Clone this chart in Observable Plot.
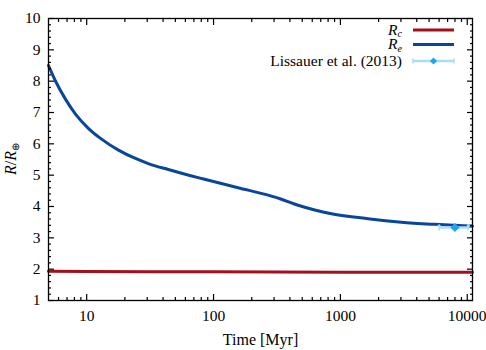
<!DOCTYPE html>
<html><head><meta charset="utf-8">
<script src="https://cdn.jsdelivr.net/npm/d3@7"></script>
<script src="https://cdn.jsdelivr.net/npm/@observablehq/plot@0.6"></script>
<style>body{margin:0;background:#fff} svg{display:block}</style>
</head><body><div id="chart"></div>
<script>
// Envelope radius R_e vs time (Myr)
const timeRe   = [5, 5.7, 6.84, 8.19, 10.4, 13.1, 17.8, 24, 30.6, 44, 65, 85, 156, 286, 343, 464, 628, 849, 1651, 3020, 5525, 11000];
const radiusRe = [8.5, 7.99, 7.41, 6.94, 6.48, 6.15, 5.80, 5.54, 5.37, 5.18, 4.99, 4.87, 4.60, 4.33, 4.23, 4.04, 3.89, 3.77, 3.61, 3.50, 3.43, 3.37];
// Core radius R_c vs time (Myr)
const timeRc   = [5, 10, 100, 1000, 11000];
const radiusRc = [1.93, 1.925, 1.915, 1.905, 1.9];
// Lissauer et al. (2013)
const obsTime   = [8000];
const obsTimeLo = [6000];
const obsTimeHi = [10200];
const obsRadius = [3.33];
// ticks
const xMajor = [10, 100, 1000, 10000];
const xMinor = [6, 7, 8, 9, 20, 30, 40, 50, 60, 70, 80, 90, 200, 300, 400, 500, 600, 700, 800, 900, 2000, 3000, 4000, 5000, 6000, 7000, 8000, 9000];
const yMajor = [1, 2, 3, 4, 5, 6, 7, 8, 9, 10];
const yMinor = d3.range(1, 10, 0.2).filter(v => Math.abs(v - Math.round(v)) > 1e-6);

const red = "#a50f1c", blue = "#08469b", light = "#a8dcf7", pt = "#1aa6f2";

const re = timeRe.map((t, i) => ({t, r: radiusRe[i]}));
const rc = timeRc.map((t, i) => ({t, r: radiusRc[i]}));
const obs = obsTime.map((t, i) => ({t, lo: obsTimeLo[i], hi: obsTimeHi[i], r: obsRadius[i]}));

const chart = Plot.plot({
  width: 486, height: 350,
  marginLeft: 48, marginRight: 14, marginTop: 18, marginBottom: 50,
  style: {fontFamily: "Liberation Serif", fontSize: "15.5px", color: "#000", background: "#fff"},
  x: {type: "log", domain: [5, 11000]},
  y: {domain: [1, 10]},
  marks: [
    Plot.line(rc, {x: "t", y: "r", stroke: red, strokeWidth: 3, curve: "monotone-x"}),
    Plot.line(re, {x: "t", y: "r", stroke: blue, strokeWidth: 3, curve: "monotone-x"}),
    Plot.link(obs, {x1: "lo", x2: "hi", y1: "r", y2: "r", stroke: light, strokeWidth: 2.5}),
    Plot.vector(obs, {x: "lo", y: "r", length: 5, rotate: 0, anchor: "middle", stroke: light, strokeWidth: 1.5}),
    Plot.vector(obs, {x: "hi", y: "r", length: 5, rotate: 0, anchor: "middle", stroke: light, strokeWidth: 1.5}),
    Plot.dot(obs, {x: "t", y: "r", symbol: "square", rotate: 45, fill: pt, r: 3.6}),
    Plot.frame({stroke: "#000", strokeWidth: 1.3}),
    // tick marks (inward)
    Plot.axisY({anchor: "left", ticks: yMajor, tickSize: -6, fill: null, label: null, strokeWidth: 1.2}),
    Plot.axisY({anchor: "left", ticks: yMinor, tickSize: -3, fill: null, label: null, strokeWidth: 1.2}),
    Plot.axisY({anchor: "right", ticks: yMajor, tickSize: -6, fill: null, label: null, strokeWidth: 1.2}),
    Plot.axisY({anchor: "right", ticks: yMinor, tickSize: -3, fill: null, label: null, strokeWidth: 1.2}),
    Plot.axisX({anchor: "bottom", ticks: xMajor, tickSize: -6, fill: null, label: null, strokeWidth: 1.2}),
    Plot.axisX({anchor: "bottom", ticks: xMinor, tickSize: -3, fill: null, label: null, strokeWidth: 1.2}),
    Plot.axisX({anchor: "top", ticks: xMajor, tickSize: -6, fill: null, label: null, strokeWidth: 1.2}),
    Plot.axisX({anchor: "top", ticks: xMinor, tickSize: -3, fill: null, label: null, strokeWidth: 1.2}),
    // tick labels
    Plot.axisY({anchor: "left", ticks: yMajor, tickSize: 0, tickPadding: 8, tickFormat: d => String(d), label: null}),
    Plot.axisX({anchor: "bottom", ticks: xMajor, tickSize: 0, tickPadding: 9, tickFormat: d => String(d), label: null}),
    Plot.text(["Time [Myr]"], {frameAnchor: "bottom", dy: 39, lineAnchor: "middle", fontSize: 16})
  ]
});
document.getElementById("chart").append(chart);

// y-axis label and legend
const svg = d3.select(chart);
const fam = "Liberation Serif";
const yl = svg.append("text")
  .attr("transform", "translate(16,159) rotate(-90)")
  .attr("text-anchor", "middle")
  .attr("font-family", fam).attr("font-size", 16).attr("fill", "#000");
yl.append("tspan").attr("font-style", "italic").text("R");
yl.append("tspan").text("/");
yl.append("tspan").attr("font-style", "italic").text("R");
yl.append("tspan").attr("font-size", 10).attr("dy", 3).text("⊕");

const lg = svg.append("g").attr("font-family", fam).attr("font-size", 15.5).attr("fill", "#000");
const rows = [
  {y: 30, name: "R", sub: "c", color: red},
  {y: 44.5, name: "R", sub: "e", color: blue}
];
rows.forEach(d => {
  const t = lg.append("text").attr("x", 402).attr("y", d.y).attr("dy", "0.32em").attr("text-anchor", "end");
  t.append("tspan").attr("font-style", "italic").text(d.name);
  t.append("tspan").attr("font-style", "italic").attr("font-size", 10).attr("dy", 2.5).text(d.sub);
  lg.append("line").attr("x1", 413).attr("x2", 454).attr("y1", d.y).attr("y2", d.y)
    .attr("stroke", d.color).attr("stroke-width", 3);
});
lg.append("text").attr("x", 402).attr("y", 61).attr("dy", "0.32em").attr("text-anchor", "end").text("Lissauer et al. (2013)");
lg.append("line").attr("x1", 413).attr("x2", 454).attr("y1", 61).attr("y2", 61).attr("stroke", light).attr("stroke-width", 2.5);
[413, 454].forEach(x => lg.append("line").attr("x1", x).attr("x2", x).attr("y1", 58.5).attr("y2", 63.5).attr("stroke", light).attr("stroke-width", 1.5));
lg.append("path").attr("d", d3.symbol(d3.symbolSquare, 26)()).attr("transform", "translate(433.5,61) rotate(45)").attr("fill", pt);
</script>
</body></html>
